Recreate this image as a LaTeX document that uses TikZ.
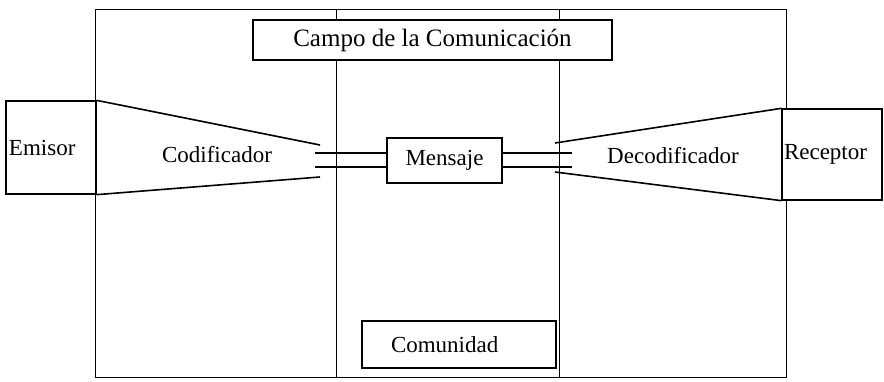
\documentclass[tikz,border=0pt]{standalone}
\usepackage{fontspec}
\setmainfont{Liberation Serif}
\begin{document}
\begin{tikzpicture}[x=1pt,y=-1pt,
  frameline/.style={line width=0.9pt},
  box/.style={draw,line width=1.3pt,inner sep=0pt,font=\fontsize{23}{26}\selectfont},
  lbl/.style={inner sep=0pt,font=\fontsize{23}{26}\selectfont},
  cone/.style={line width=1.6pt},
  wire/.style={line width=1.6pt}]
\useasboundingbox (0,0) rectangle (884,382);
% field frame and columns
\coordinate (ftl) at (95,9);
\coordinate (fbr) at (786,377);
\coordinate (c1t) at (336,9);
\coordinate (c1b) at (336,377);
\coordinate (c2t) at (559,9);
\coordinate (c2b) at (559,377);
\draw[frameline] (ftl) rectangle (fbr);
\draw[frameline] (c1t) -- (c1b);
\draw[frameline] (c2t) -- (c2b);
% boxes
\node[box,fill=white,minimum width=359pt,minimum height=40pt,font=\fontsize{25}{28}\selectfont] (campo) at (432.5,40) {Campo de la Comunicación};
\node[box,fill=white,minimum width=90pt,minimum height=93pt,text width=84pt,align=left] (emisor) at (51,147.5) {Emisor};
\node[box,fill=white,minimum width=100pt,minimum height=91pt,text width=96pt,align=left] (receptor) at (832,154.5) {Receptor};
\node[box,fill=white,minimum width=115pt,minimum height=45pt] (mensaje) at (444.5,160.5) {Mensaje};
\node[box,fill=white,minimum width=194pt,minimum height=47pt,text width=136pt,align=left] (comunidad) at (459,344.5) {Comunidad};
% coder cones
\coordinate (codt) at (320,145);
\coordinate (codb) at (320,177);
\coordinate (dect) at (555,143);
\coordinate (decb) at (555,172);
\draw[cone] (emisor.north east) -- (codt);
\draw[cone] (emisor.south east) -- (codb);
\draw[cone] (dect) -- (receptor.north west);
\draw[cone] (decb) -- (receptor.south west);
\node[lbl] (codificador) at (217,155) {Codificador};
\node[lbl] (decodificador) at (673,156) {Decodificador};
% channel wires
\coordinate (wl1) at (315,153);
\coordinate (wl2) at (315,167);
\coordinate (wr1) at (572,153);
\coordinate (wr2) at (572,167);
\draw[wire] (wl1) -- (wl1 -| mensaje.west);
\draw[wire] (wl2) -- (wl2 -| mensaje.west);
\draw[wire] (wr1 -| mensaje.east) -- (wr1);
\draw[wire] (wr2 -| mensaje.east) -- (wr2);
\end{tikzpicture}
\end{document}
